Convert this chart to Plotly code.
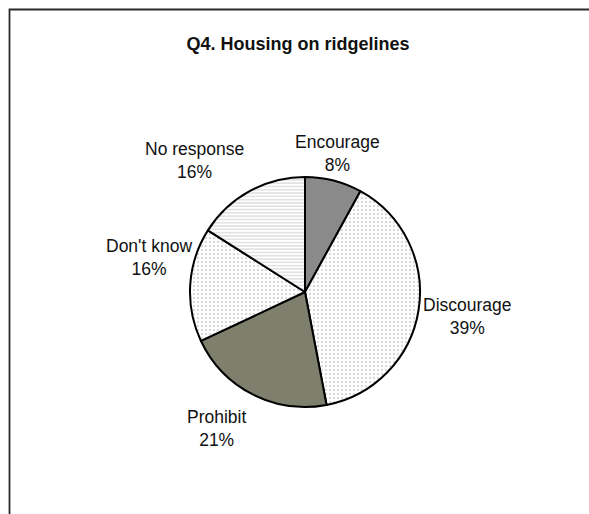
import math
import plotly.graph_objects as go

# Survey responses for Q4
categories = ["Encourage", "Discourage", "Prohibit", "Don't know", "No response"]
percents = [8, 39, 21, 16, 16]

fills = ["#8a8a8a", "#ffffff", "#7f7f6e", "#ffffff", "#ffffff"]
shapes = ["", ".", "", ".", "-"]
fgcolors = ["#8a8a8a", "#a0a0a0", "#7f7f6e", "#a0a0a0", "#7a7a7a"]
pattern_sizes = [4, 4, 4, 4, 3.3]

# pixel nudges of each label away from its slice's rim midpoint
label_nudge = [(4, -27), (49, 7), (-36, 34), (-41, -27), (-55, -31)]

W, H = 589, 514
cx, cy, r = 305, 292, 115

fig = go.Figure(go.Pie(
    labels=categories,
    values=percents,
    sort=False,
    direction="clockwise",
    rotation=0,
    textinfo="none",
    marker=dict(
        colors=fills,
        line=dict(color="#000000", width=2),
        pattern=dict(shape=shapes, fgcolor=fgcolors, bgcolor=fills,
                     size=pattern_sizes, solidity=0.22, fillmode="overlay"),
    ),
    showlegend=False,
    hoverinfo="label+percent",
    domain=dict(x=[(cx - r) / W, (cx + r) / W],
                y=[(H - cy - r) / H, (H - cy + r) / H]),
))

# Category labels placed beside the middle of each slice (clockwise from 12 o'clock)
total = sum(percents)
cum = 0
annotations = []
for name, val, (dx, dy) in zip(categories, percents, label_nudge):
    mid = (cum + val / 2) / total * 2 * math.pi
    cum += val
    px = cx + r * math.sin(mid)
    py = cy - r * math.cos(mid)
    annotations.append(dict(
        x=px / W, y=1 - py / H, xref="paper", yref="paper",
        xshift=dx, yshift=-dy, showarrow=False,
        text=f"{name}<br>{val}%", align="center",
        xanchor="center", yanchor="middle",
        font=dict(family="Liberation Sans, Arial", size=17.5, color="#111111"),
    ))

fig.update_layout(
    width=W, height=H,
    margin=dict(l=0, r=0, t=0, b=0),
    paper_bgcolor="#ffffff",
    title=dict(text="<b>Q4. Housing on ridgelines</b>", x=298 / W, xanchor="center",
               y=1 - 44 / H, yanchor="middle",
               font=dict(family="Liberation Sans, Arial", size=18, color="#111111")),
    annotations=annotations,
    shapes=[dict(type="rect", xref="paper", yref="paper",
                 x0=9.5 / W, x1=1.02, y0=-0.02, y1=1 - 9.5 / H,
                 line=dict(color="#2a2a2a", width=1.8))],
)

fig.write_html("out.html")
